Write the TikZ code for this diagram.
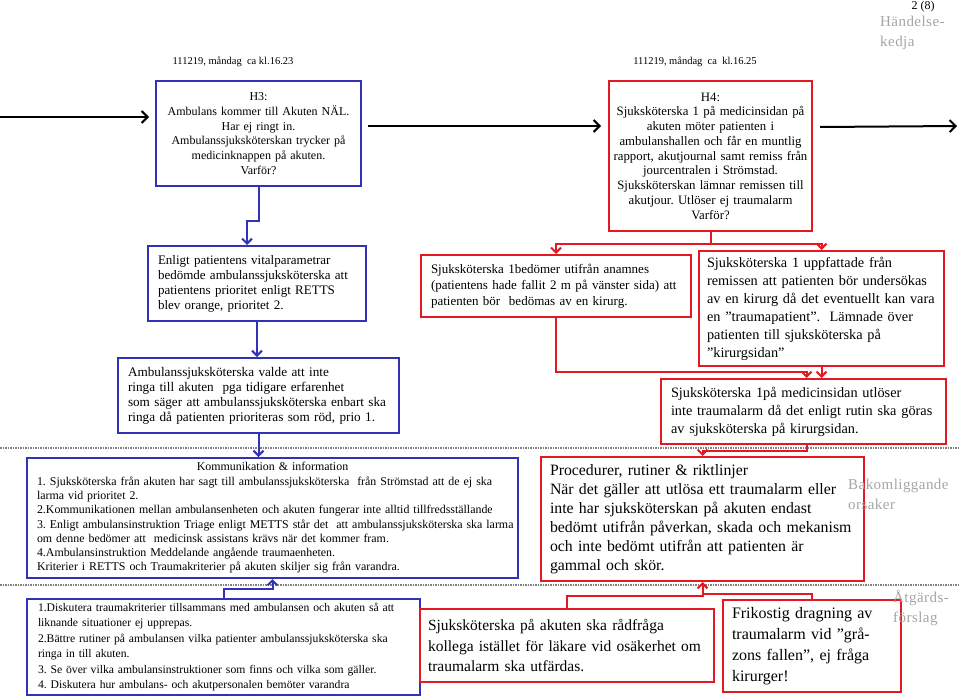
\documentclass[tikz,border=0pt]{standalone}
\usepackage{fontspec}
\setmainfont{Liberation Serif}
\newfontfamily\labelfont[LetterSpace=3]{Liberation Serif}
\usetikzlibrary{arrows.meta, calc, positioning}
\definecolor{hblue}{RGB}{50,50,185}
\definecolor{hred}{RGB}{228,24,32}
\definecolor{hgray}{RGB}{165,165,165}
\newcommand{\fsz}[2]{\fontsize{#1}{#2}\selectfont}
\frenchspacing
\tikzset{
    chainbox/.style = {rectangle, line width=2pt, fill=white, anchor=north west,
        inner ysep=0pt, inner xsep=10pt, align=left},
    bluebox/.style = {chainbox, draw=hblue},
    redbox/.style = {chainbox, draw=hred},
    bluearrow/.style = {draw=hblue, line width=2pt, -{Straight Barb[length=5pt,width=10pt]}},
    redlink/.style = {draw=hred, line width=2pt},
    redarrow/.style = {redlink, -{Straight Barb[length=5pt,width=10pt]}},
    blackarrow/.style = {draw=black, line width=2pt, -{Straight Barb[length=6pt,width=12pt]}},
    stamp/.style = {inner sep=0pt, font=\fsz{10.5}{12}},
    sidelabel/.style = {inner sep=0pt, anchor=north west, align=left, text=hgray,
        font=\labelfont\fsz{15}{20}},
    divider/.style = {draw=gray, line width=1.5pt, densely dotted},
}

\begin{document}
\begin{tikzpicture}[x=1pt,y=-1pt]
    \useasboundingbox (0,0) rectangle (960,696);
    % level dividers
    \draw[divider] (0,448) -- (960,448);
    \draw[divider] (0,585) -- (960,585);

    % header
    \node[stamp, font=\fsz{12}{14}] (page) at (923,7) {2 (8)};
    \node[stamp] (time3) at (233,62) {111219, måndag\ \ ca kl.16.23};
    \node[stamp] (time4) at (695,62) {111219, måndag\ \ ca\ \ kl.16.25};

    % event chain
    \node[bluebox, align=center, inner xsep=8pt, text width=189pt, minimum height=105pt,
        font=\fsz{12}{14.7}] (h3) at (155,80)
        {H3:\\Ambulans kommer till Akuten NÄL.\\Har ej ringt in.\\
        Ambulanssjuksköterskan trycker på\\medicinknappen på akuten.\\Varför?};
    \node[redbox, align=center, inner xsep=3pt, text width=197pt, minimum height=150pt,
        font=\fsz{12.8}{14.75}] (h4) at (608,80)
        {H4:\\Sjuksköterska 1 på medicinsidan på\\akuten möter patienten i\\
        ambulanshallen och får en muntlig\\rapport, akutjournal samt remiss från\\
        jourcentralen i Strömstad.\\Sjuksköterskan lämnar remissen till\\
        akutjour. Utlöser ej traumalarm\\Varför?};

    % causes, ambulance side
    \node[bluebox, text width=198pt, minimum height=75pt, font=\fsz{13}{15}] (enligt) at (147,245)
        {Enligt patientens vitalparametrar\\bedömde\ ambulanssjuksköterska att\\
        patientens prioritet enligt RETTS\\blev orange, prioritet 2.};
    \node[bluebox, text width=261pt, minimum height=75pt, font=\fsz{13.2}{15}] (valde) at (117,357)
        {Ambulanssjuksköterska valde att inte\\ringa till akuten\ \ pga tidigare erfarenhet\\
        som säger att ambulanssjuksköterska enbart ska\\ringa då patienten prioriteras som röd, prio 1.};

    % causes, hospital side
    \node[redbox, text width=250pt, minimum height=62pt, font=\fsz{13}{16}] (bedomer) at (420,254)
        {Sjuksköterska 1bedömer utifrån anamnes\\(patientens hade fallit 2 m på vänster sida) att\\
        patienten bör\ \ bedömas av en kirurg.};
    \node[redbox, inner xsep=8pt, text width=229pt, minimum height=115pt, font=\fsz{14.3}{18}] (uppf) at (698,250)
        {Sjuksköterska 1 uppfattade från\\remissen att patienten bör undersökas\\
        av en kirurg då det eventuellt kan vara\\en ”traumapatient”.\ \ Lämnade över\\
        patienten till sjuksköterska på\\”kirurgsidan”};
    \node[redbox, text width=265pt, minimum height=65pt, font=\fsz{14.3}{18}] (medicin) at (660,378)
        {Sjuksköterska 1på medicinsidan utlöser\\inte traumalarm då det enligt rutin ska göras\\
        av sjuksköterska på kirurgsidan.};

    % underlying causes
    \node[bluebox, inner xsep=10pt, text width=471pt, minimum height=120pt, font=\fsz{11.9}{14.3}] (komm) at (26,457)
        {\makebox[\hsize]{Kommunikation \& information}\\
        \mbox{1. Sjuksköterska från akuten har sagt till ambulanssjuksköterska\ \ från Strömstad att de ej ska}\\
        larma vid prioritet 2.\\
        \mbox{2.Kommunikationen mellan ambulansenheten och akuten fungerar inte alltid tillfredsställande}\\
        \mbox{3. Enligt ambulansinstruktion Triage enligt METTS står det\ \ att ambulanssjuksköterska ska larma}\\
        om denne bedömer att\ \ medicinsk assistans krävs när det kommer fram.\\
        4.Ambulansinstruktion Meddelande angående traumaenheten.\\
        Kriterier i RETTS och Traumakriterier på akuten skiljer sig från varandra.};
    \node[redbox, inner xsep=9pt, text width=305pt, minimum height=124pt, font=\fsz{15.8}{19}] (proc) at (540,456)
        {Procedurer, rutiner \& riktlinjer\\När det gäller att utlösa ett traumalarm eller\\
        inte har sjuksköterskan på akuten endast\\bedömt utifrån påverkan, skada och mekanism\\
        och inte bedömt utifrån att patienten är\\gammal och skör.};

    % proposed actions
    \node[bluebox, inner xsep=11pt, text width=371pt, minimum height=96pt, font=\fsz{11.65}{15.4}] (disk) at (26,598)
        {1.Diskutera traumakriterier tillsammans med ambulansen och akuten så att\\
        liknande situationer ej upprepas.\\
        2.Bättre rutiner på ambulansen vilka patienter ambulanssjuksköterska ska\\
        ringa in till akuten.\\
        3. Se över vilka ambulansinstruktioner som finns och vilka som gäller.\\
        4. Diskutera hur ambulans- och akutpersonalen bemöter varandra};
    \node[redbox, inner xsep=8pt, text width=278pt, minimum height=73pt, font=\fsz{15.5}{20.5}] (radfraga) at (419,608)
        {Sjuksköterska på akuten ska rådfråga\\kollega istället för läkare vid osäkerhet om\\
        traumalarm ska utfärdas.};
    \node[redbox, inner xsep=9pt, text width=160pt, minimum height=92pt, font=\fsz{16}{21}] (frik) at (722,599)
        {Frikostig dragning av\\traumalarm vid ”grå-\\zons fallen”, ej fråga\\kirurger!};

    % side labels
    \node[sidelabel] (chain) at (880,16) {Händelse-\\kedja};
    \node[sidelabel] (bakom) at (848,479) {Bakomliggande\\orsaker};
    \node[sidelabel] (atgard) at (893,590) {Åtgärds-\\förslag};

    % connectors
    \coordinate (in3) at (0,117);
    \coordinate (out4) at (957,126);
    \draw[blackarrow] (in3) -- ($(in3 -| h3.west)+(-6,0)$);
    \draw[blackarrow] ($(h3.east)+(6,-7.5)$) -- ($(h4.west)+(-7,-30)$);
    \draw[blackarrow] ($(h4.east)+(7,-29)$) -- (out4);

    \draw[bluearrow] (h3.south) -- ++(0,34) -| ($(enligt.north)+(-10,0)$);
    \draw[bluearrow] (enligt.south) -- (enligt.south |- valde.north);
    \draw[bluearrow] (valde.south) -- (valde.south |- komm.north);
    \draw[bluearrow] (disk.north) -- ++(0,-9) -| (komm.south);

    \coordinate (split4) at ($(h4.south)+(0,12)$);
    \draw[redlink] (h4.south) -- (split4);
    \draw[redarrow] (split4) -| (bedomer.north);
    \draw[redarrow] (split4) -| (uppf.north);
    \draw[redarrow] (bedomer.south) -- ++(0,54) -| ([xshift=3pt]medicin.north);
    \draw[redarrow] (uppf.south) -- (uppf.south |- medicin.north);
    \draw[redarrow] ([xshift=3pt]medicin.south) -- ++(0,6) -| (proc.north);
    \draw[redarrow] (radfraga.north) -- ++(0,-12) -| (proc.south);
    \draw[redlink] (frik.north) |- ($(proc.south)+(0,12)$);
\end{tikzpicture}
\end{document}
